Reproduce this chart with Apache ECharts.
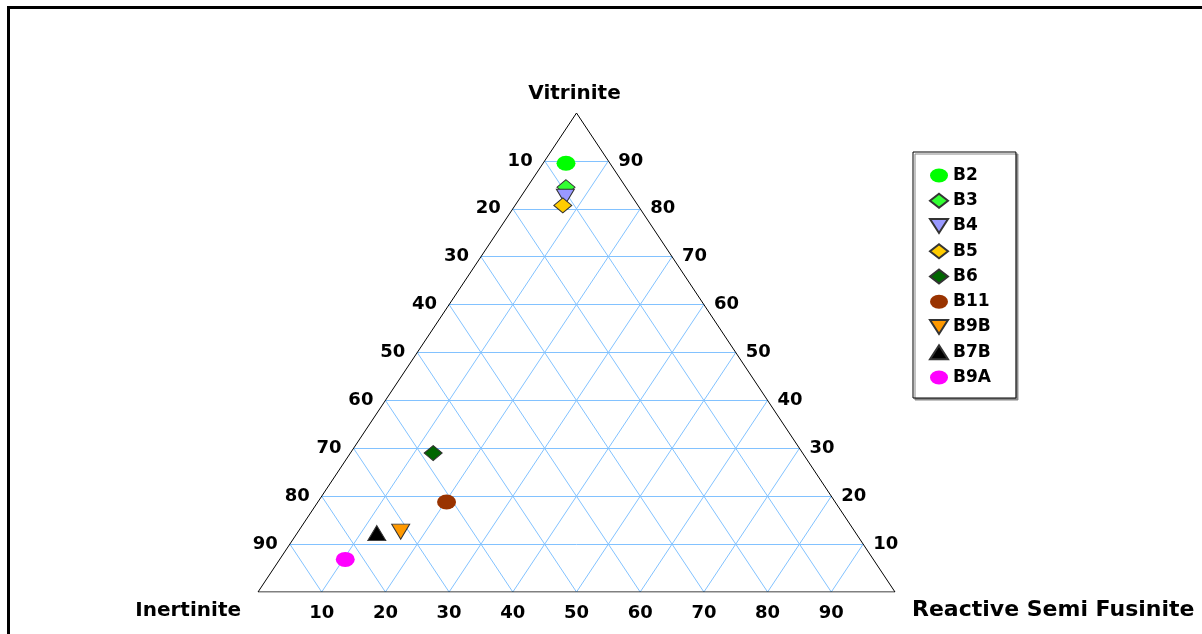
<!DOCTYPE html>
<html><head><meta charset="utf-8">
<script src="https://cdn.jsdelivr.net/npm/echarts@6/dist/echarts.min.js"></script>
<style>
html,body{margin:0;padding:0;background:#fff;width:1202px;height:634px;overflow:hidden}
#chart{position:absolute;left:0;top:0;width:1202px;height:634px}
#frame{position:absolute;left:7px;top:6px;width:1400px;height:800px;border-top:3px solid #000;border-left:3px solid #000;pointer-events:none}
</style></head><body>
<div id="chart"></div><div id="frame"></div>
<script>
// ---- data ----
const samples    = ['B2','B3','B4','B5','B6','B11','B9B','B7B','B9A'];
const vitrinite  = [89.5, 84.5, 82.5, 80.7, 29.0, 18.8, 12.6, 12.3, 6.8];
const reactive   = [3.6, 6.1, 7.0, 7.5, 13.0, 20.2, 16.1, 12.5, 10.3];
const inertinite = [6.9, 9.4, 10.5, 11.8, 58.0, 61.0, 71.3, 75.2, 82.9];
const ticks      = [10,20,30,40,50,60,70,80,90];
const axisNames  = ['Vitrinite','Inertinite','Reactive Semi Fusinite'];

// ---- styles ----
const colors = ['#00ff00','#33ff33','#9999ff','#ffcc00','#006600','#993300','#ff9900','#000000','#ff00ff'];
const shapes = ['circle','diamond','triDown','diamond','diamond','circle','triDown','triUp','circle'];
const SYM = {
  circle: 'path://M0,1A1,1,0,1,1,2,1A1,1,0,1,1,0,1Z',
  diamond: 'diamond',
  triDown: 'path://M0,0L2,0L1,2Z',
  triUp: 'triangle'
};
const SIZE = {circle:[19,15], diamond:[18,15], triDown:[18,15], triUp:[18,15]};
const FONT = 'DejaVu Sans';

// ternary -> cartesian (x = R + V/2, y = V), normalised
function toXY(v, i, r){ const s = v + i + r; return [(r + v/2)/s*100, v/s*100]; }

const gridLines = [];
ticks.forEach(t => {
  gridLines.push({coords: [toXY(t, 100-t, 0), toXY(t, 0, 100-t)]});   // constant Vitrinite
  gridLines.push({coords: [toXY(0, 100-t, t), toXY(100-t, 0, t)]});   // constant Reactive
  gridLines.push({coords: [toXY(0, t, 100-t), toXY(100-t, t, 0)]});   // constant Inertinite
});

function labelSeries(items, label){
  return {
    type: 'scatter', silent: true, symbol: 'circle', symbolSize: 0, z: 6,
    itemStyle: {opacity: 1, color: '#000'},
    data: items,
    label: Object.assign({show: true, formatter: '{b}', color: '#000', opacity: 1,
      fontFamily: FONT, fontWeight: 'bold', fontSize: 18}, label)
  };
}

const series = [
  {type: 'lines', coordinateSystem: 'cartesian2d', polyline: false, silent: true, z: 1,
   data: gridLines, lineStyle: {color: '#82c2ff', width: 1, opacity: 1}},
  {type: 'lines', coordinateSystem: 'cartesian2d', polyline: true, silent: true, z: 2,
   data: [{coords: [toXY(0,100,0), toXY(100,0,0), toXY(0,0,100), toXY(0,100,0)]}],
   lineStyle: {color: '#000', width: 1, opacity: 1}},
  // left side: Inertinite ticks
  labelSeries(ticks.map(t => ({name: String(t), value: toXY(100-t, t, 0)})), {position: 'left', distance: 12}),
  // right side: Vitrinite ticks
  labelSeries(ticks.map(t => ({name: String(t), value: toXY(t, 0, 100-t)})), {position: 'right', distance: 10}),
  // bottom: Reactive ticks
  labelSeries(ticks.map(t => ({name: String(t), value: toXY(0, 100-t, t)})), {position: 'bottom', distance: 12}),
  // corner names
  labelSeries([{name: axisNames[0], value: toXY(100,0,0)}], {position: 'top', distance: 9, fontSize: 20, offset: [-2, 0]}),
  labelSeries([{name: axisNames[1], value: toXY(0,100,0)}], {position: 'left', distance: 17, fontSize: 20, offset: [0, 19]}),
  labelSeries([{name: axisNames[2], value: toXY(0,0,100)}], {position: 'right', distance: 17, fontSize: 22, offset: [0, 18]})
];

samples.forEach((s, k) => {
  const shp = shapes[k];
  series.push({
    type: 'scatter', name: s, z: 10,
    symbol: SYM[shp], symbolSize: SIZE[shp],
    data: [toXY(vitrinite[k], inertinite[k], reactive[k])],
    itemStyle: {color: colors[k], opacity: 1,
      borderColor: shp === 'circle' ? colors[k] : '#333', borderWidth: shp === 'circle' ? 0 : 1}
  });
});

const chart = echarts.init(document.getElementById('chart'), null, {renderer: 'canvas'});
chart.setOption({
  animation: false,
  backgroundColor: 'rgba(0,0,0,0)',
  grid: {left: 258, top: 113, width: 637, height: 479, containLabel: false},
  xAxis: {type: 'value', min: 0, max: 100, show: false},
  yAxis: {type: 'value', min: 0, max: 100, show: false},
  legend: {
    orient: 'vertical', left: 913, top: 152, data: samples,
    itemWidth: 18, itemHeight: 14, itemGap: 8.25, symbolKeepAspect: false,
    padding: [15, 25, 12, 16], selectedMode: false,
    backgroundColor: '#fff', borderColor: '#000', borderWidth: 1,
    shadowColor: '#888', shadowOffsetX: 2, shadowOffsetY: 2, shadowBlur: 0,
    textStyle: {fontFamily: FONT, fontWeight: 'bold', fontSize: 17, color: '#000'}
  },
  series: series
});
</script>
</body></html>
